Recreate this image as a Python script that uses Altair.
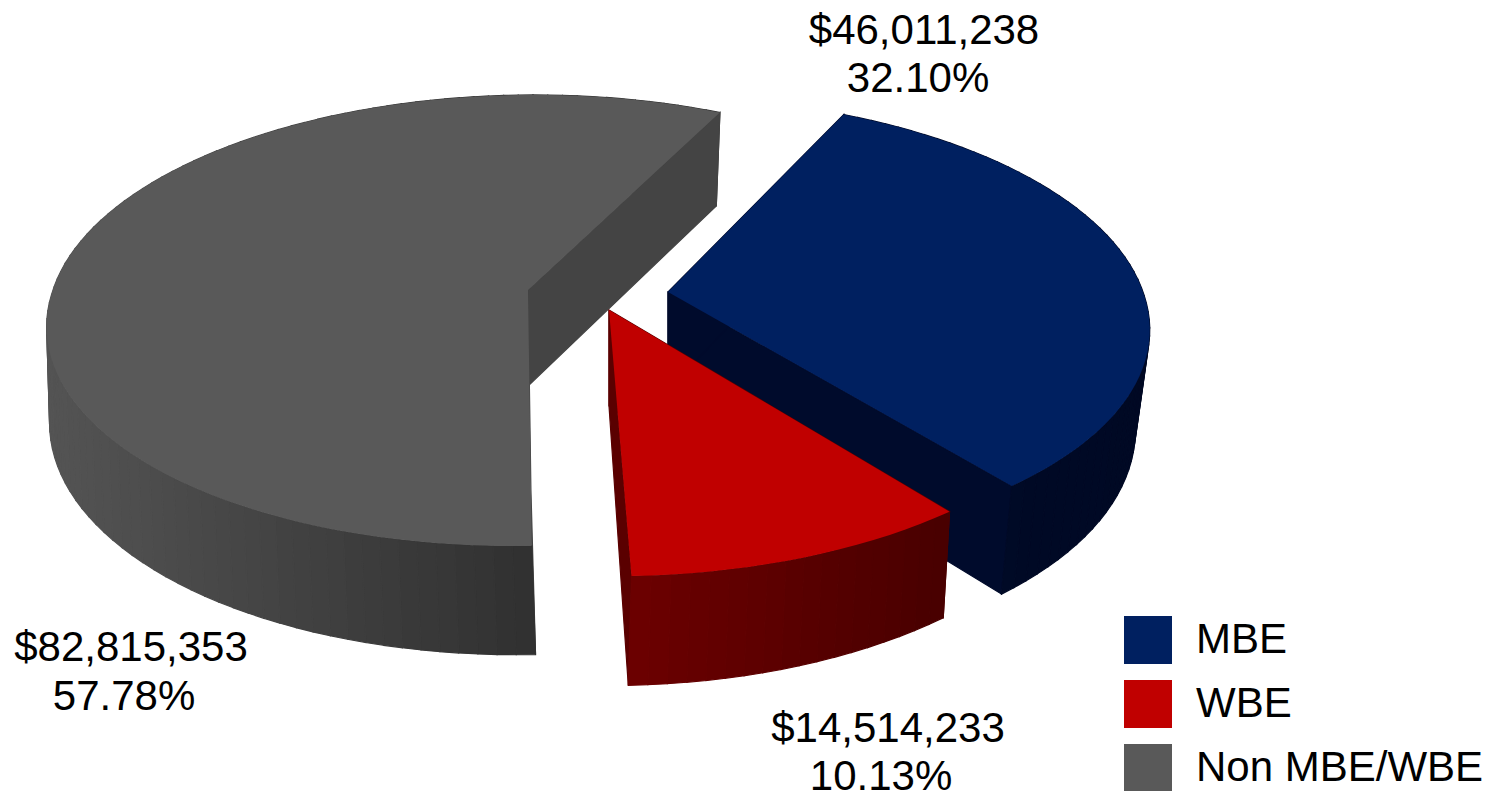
import math
import altair as alt

# ---- chart values ----
series = ["MBE", "WBE", "Non MBE/WBE"]
amounts = [46011238, 14514233, 82815353]
amount_labels = ["$46,011,238", "$14,514,233", "$82,815,353"]
share_labels = ["32.10%", "10.13%", "57.78%"]
top_colors = ["#002060", "#C00000", "#595959"]

FONT = "Liberation Sans"
FS = 42
START = 26.0
A, B, K = 475.0, 221.4, 0.135
total = sum(amounts)

# wedge placement of the exploded pie
geom = {
    "MBE": dict(ax=660, ay=284, sc=1.0, sx=1.0, sh=-0.07, shb=-0.056, al=0, be=-0.03, ga=0.0, dd=2.5),
    "WBE": dict(ax=601, ay=302, sc=1.04, sx=0.985, sh=-0.011, shb=-0.011, al=0, be=-0.012, ga=-0.011, dd=0),
    "Non MBE/WBE": dict(ax=520, ay=282, sc=1.0, sx=1.0, sh=0.06, shb=0.035, al=0, be=-0.005, ga=0.015, dd=0),
}


def offs(g, deg):
    t = math.radians(deg)
    u, s = math.cos(t), math.sin(t)
    den = 1 + K * u
    dy = B * u / den * g["sc"]
    dx = A * s / den * g["sc"] * g["sx"] + (g["sh"] if dy < 0 else g["shb"]) * dy
    return dx, dy


def top(g, deg):
    dx, dy = offs(g, deg)
    return [g["ax"] + dx, g["ay"] - dy]


def bottom_from(g, dx, dy):
    d = 96 + g["dd"] + (0.05 * -dy if dy < 0 else -0.015 * dy)
    shift = g["al"] + g["be"] * dx + g["ga"] * -dy
    return [g["ax"] + dx + shift, g["ay"] - dy + d]


def bottom(g, deg):
    return bottom_from(g, *offs(g, deg))


def apex_bottom(g):
    return bottom_from(g, 0.0, 0.0)


def feature(ring, **props):
    ring = ring + [ring[0]]
    return {"type": "Feature", "properties": props,
            "geometry": {"type": "Polygon", "coordinates": [ring]}}


def lerp_color(c0, c1, t):
    t = max(0.0, min(1.0, t))
    return "#%02x%02x%02x" % tuple(round(a + (b - a) * t) for a, b in zip(c0, c1))


shades = {
    "MBE": ((0, 11, 42), (0, 9, 36), 668, 1150, "#000b2c"),
    "WBE": ((108, 0, 0), (72, 0, 0), 632, 948, "#5a0000"),
    "Non MBE/WBE": ((84, 84, 84), (48, 48, 48), 45, 535, "#444444"),
}

spans = {}
a0 = START
for name, amount in zip(series, amounts):
    a1 = a0 + amount / total * 360
    spans[name] = (a0, a1)
    a0 = a1

walls = []
tops = []
for name in ["Non MBE/WBE", "MBE", "WBE"]:
    g = geom[name]
    a0, a1 = spans[name]
    c0, c1, x0, x1, radial = shades[name]
    n = max(4, int((a1 - a0) / 2))
    angs = [a0 + (a1 - a0) * i / n for i in range(n + 1)]
    apex = [g["ax"], g["ay"]]
    apexb = apex_bottom(g)
    near = [a for a in (a0, a1) if math.cos(math.radians(a)) <= 0]
    far = [a for a in (a0, a1) if math.cos(math.radians(a)) > 0]
    # radial walls at the near edges go behind the outer wall
    for a in near:
        walls.append(feature([apex, top(g, a), bottom(g, a), apexb], color=radial))
    # outer wall strips
    for p, q in zip(angs[:-1], angs[1:]):
        tp, tq = top(g, p), top(g, q)
        col = lerp_color(c0, c1, ((tp[0] + tq[0]) / 2 + 8 - x0) / (x1 - x0))
        walls.append(feature([tp, tq, bottom(g, q), bottom(g, p)], color=col))
    # radial walls at the far edges stand in front of the far outer wall
    for a in far:
        walls.append(feature([apex, top(g, a), bottom(g, a), apexb], color=radial))
    tops.append(feature([apex] + [top(g, d) for d in angs], series=name))

proj = dict(type="identity", scale=1, translate=[0, 0])

wall_layer = alt.Chart(alt.Data(values=walls)).mark_geoshape(strokeWidth=1.2).encode(
    fill=alt.Fill("properties.color:N", scale=None),
    stroke=alt.Stroke("properties.color:N", scale=None),
).project(**proj)

# draw order: grey, blue, red
top_layer = alt.Chart(alt.Data(values=tops)).mark_geoshape(strokeWidth=0).encode(
    color=alt.Color(
        "properties.series:N",
        scale=alt.Scale(domain=series, range=top_colors),
        sort=series,
        legend=alt.Legend(
            title=None, orient="none", legendX=1116, legendY=608,
            symbolType="square", symbolSize=2304, symbolStrokeWidth=0,
            symbolOpacity=1, labelFont=FONT, labelFontSize=FS, labelColor="#000000",
            labelOffset=24, rowPadding=16, labelLimit=400, padding=0,
        ),
    ),
).project(**proj)


def label(text, x, y):
    return alt.Chart(alt.Data(values=[{"t": text}])).mark_text(
        font=FONT, fontSize=FS, color="#000000", align="center", baseline="middle"
    ).encode(text="t:N", x=alt.value(x - 8), y=alt.value(y - 8))


labels = [
    label(amount_labels[0], 924, 31),
    label(share_labels[0], 918, 79),
    label(amount_labels[1], 888, 729),
    label(share_labels[1], 881, 777),
    label(amount_labels[2], 131, 648),
    label(share_labels[2], 124, 697),
]

chart = alt.layer(wall_layer, top_layer, *labels).properties(
    width=1481, height=783, padding=0, autosize="none",
    background="#ffffff",
).configure_view(stroke=None)

chart.save("out.html", embed_options={"renderer": "svg", "actions": False})
